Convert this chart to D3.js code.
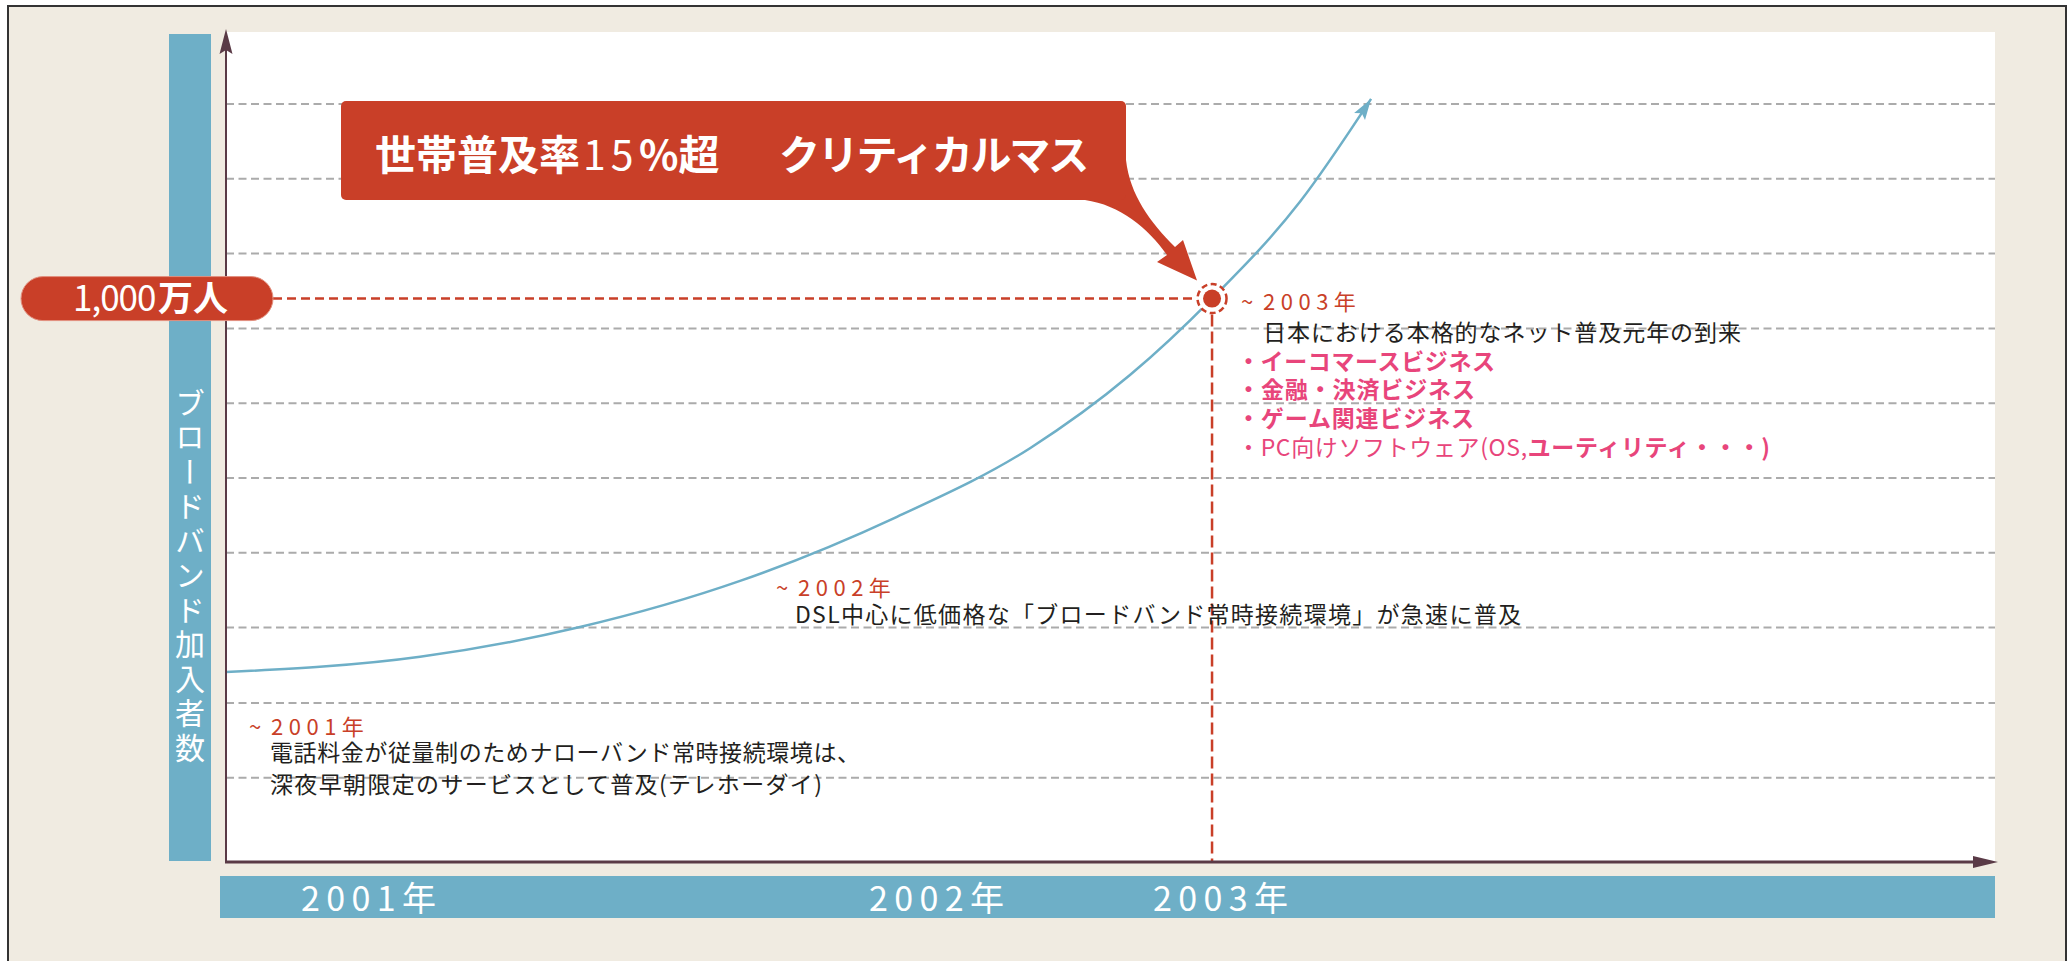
<!DOCTYPE html>
<html>
<head>
<meta charset="utf-8">
<script src="https://cdn.jsdelivr.net/npm/d3@7"></script>
<style>
html, body { margin: 0; padding: 0; background: #fff; overflow: hidden; }
svg text { font-family: "Noto Sans CJK JP", "Noto Sans", sans-serif; }
</style>
</head>
<body>
<div id="chart"></div>
<script>
// timeline position (0-100 along the x axis) and subscribers (万人)
var curveX = [0, 10.97, 20.01, 29.06, 37.93, 45.45, 51.10, 55.74, 60.71, 64.73];
var curveY = [336, 363, 416, 498, 612, 734, 864, 1000, 1172, 1355];

var gridValues = [148, 281, 415, 548, 681, 814, 947, 1080, 1213, 1346];

var yearLabels = ["2001年", "2002年", "2003年"];
var yearLabelAt = [4.24, 36.35, 52.40];

var markerX = 55.74;
var markerValue = 1000;
var markerLabel = ["1,000", "万人"];

var yTitle = "ブロードバンド加入者数";
var calloutText = ["世帯普及率", "15", "%超", "クリティカルマス"];

var width = 2071,
    height = 961

var red = "#C93F28",
    pink = "#E8457B",
    blue = "#6EAFC7",
    beige = "#F0EBE1",
    axisColor = "#5A3A46",
    ink = "#231F20"

var x = d3.scaleLinear().domain([0, 100]).range([226, 1995]);
var y = d3.scaleLinear().domain([0, 1474]).range([861, 32]);

var svg = d3.select("#chart")
  .append("svg")
    .attr("width", width)
    .attr("height", height)

svg.append("rect").attr("width", width).attr("height", height).attr("fill", "#fff");

// outer frame
svg.append("rect")
  .attr("x", 8).attr("y", 6)
  .attr("width", 2058).attr("height", 990)
  .attr("fill", beige)
  .attr("stroke", "#333").attr("stroke-width", 2);

var defs = svg.append("defs");
defs.append("marker")
    .attr("id", "curveArrow")
    .attr("markerUnits", "userSpaceOnUse")
    .attr("viewBox", "-24 -10 26 20")
    .attr("markerWidth", 26).attr("markerHeight", 20)
    .attr("refX", 0).attr("refY", 0)
    .attr("orient", "auto")
  .append("path")
    .attr("d", "M0,0 L-21,-6.5 L-17,0 L-21,6.5 Z")
    .attr("fill", blue);

// axis title bands
svg.append("rect")
  .attr("x", 169).attr("y", 34)
  .attr("width", 42).attr("height", y(0) - 34)
  .attr("fill", blue);

svg.append("rect")
  .attr("x", 220).attr("y", 876)
  .attr("width", x(100) - 220).attr("height", 42)
  .attr("fill", blue);

// plot area
svg.append("rect")
  .attr("x", x(0)).attr("y", y(1474))
  .attr("width", x(100) - x(0)).attr("height", y(0) - y(1474))
  .attr("fill", "#fff");

svg.selectAll(".grid")
  .data(gridValues)
  .enter()
  .append("line")
    .attr("class", "grid")
    .attr("x1", x(0)).attr("x2", x(100))
    .attr("y1", d => y(d)).attr("y2", d => y(d))
    .attr("stroke", "#ABABAB")
    .attr("stroke-width", 2)
    .attr("stroke-dasharray", "8,4.5");

// vertical title
svg.append("text")
  .attr("x", 190).attr("y", 577)
  .attr("writing-mode", "vertical-rl")
  .attr("text-anchor", "middle")
  .attr("font-size", 30)
  .attr("letter-spacing", 4.5)
  .attr("fill", "#fff")
  .text(yTitle);

// year labels
svg.selectAll(".year")
  .data(yearLabels)
  .enter()
  .append("text")
    .attr("class", "year")
    .attr("x", (d, i) => x(yearLabelAt[i]))
    .attr("y", 911)
    .attr("font-size", 34)
    .attr("fill", "#fff")
    .attr("textLength", 135)
    .attr("lengthAdjust", "spacing")
    .text(d => d);

var px = x(markerX),
    py = y(markerValue)

// dashed guides to the critical mass point
svg.append("line")
  .attr("x1", 273).attr("x2", px - 15)
  .attr("y1", py).attr("y2", py)
  .attr("stroke", red).attr("stroke-width", 2.5)
  .attr("stroke-dasharray", "9,5");

svg.append("line")
  .attr("x1", px).attr("x2", px)
  .attr("y1", py + 16).attr("y2", y(0))
  .attr("stroke", red).attr("stroke-width", 2.5)
  .attr("stroke-dasharray", "12,5");

// growth curve
var points = curveX.map((d, i) => [d, curveY[i]]);
var line = d3.line()
  .x(d => x(d[0]))
  .y(d => y(d[1]))
  .curve(d3.curveMonotoneX);

svg.append("path")
  .attr("d", line(points))
  .attr("fill", "none")
  .attr("stroke", blue)
  .attr("stroke-width", 2.5)
  .attr("marker-end", "url(#curveArrow)");

// axes
svg.append("line")
  .attr("x1", x(0)).attr("x2", x(0))
  .attr("y1", y(0) + 1).attr("y2", 45)
  .attr("stroke", axisColor).attr("stroke-width", 2);
svg.append("path")
  .attr("d", "M" + x(0) + ",29 L" + (x(0) - 6.5) + ",54 L" + x(0) + ",50 L" + (x(0) + 6.5) + ",54 Z")
  .attr("fill", axisColor);

svg.append("line")
  .attr("x1", x(0) - 1).attr("x2", 1980)
  .attr("y1", y(0) + 1).attr("y2", y(0) + 1)
  .attr("stroke", axisColor).attr("stroke-width", 3);
svg.append("path")
  .attr("d", "M1998," + (y(0) + 1) + " L1973," + (y(0) - 5) + " L1973," + (y(0) + 7) + " Z")
  .attr("fill", axisColor);

// point marker
svg.append("circle")
  .attr("cx", px).attr("cy", py).attr("r", 14.5)
  .attr("fill", "#fff")
  .attr("stroke", red).attr("stroke-width", 2.5)
  .attr("stroke-dasharray", "6,3.5");
svg.append("circle")
  .attr("cx", px).attr("cy", py).attr("r", 9)
  .attr("fill", red);

// 1,000万人 pill
svg.append("rect")
  .attr("x", 21).attr("y", py - 22)
  .attr("width", 252).attr("height", 44)
  .attr("rx", 22)
  .attr("fill", red)
  .attr("stroke", "#E2907F").attr("stroke-width", 1);
var pill = svg.append("text")
  .attr("x", 73).attr("y", py + 12)
  .attr("font-size", 35).attr("fill", "#fff");
pill.append("tspan").attr("letter-spacing", -1).text(markerLabel[0]);
pill.append("tspan").attr("x", 158).attr("font-weight", "bold").text(markerLabel[1]);

// callout
svg.append("path")
  .attr("d", "M1126,160 C1130,195 1150,222 1175,247 L1183,240 L" + (px - 15) + "," + (py - 18) +
             " L1157,262 L1167,255 C1148,228 1120,205 1085,200 L1090,185 Z")
  .attr("fill", red);
svg.append("rect")
  .attr("x", 341).attr("y", 101)
  .attr("width", 785).attr("height", 99)
  .attr("rx", 5)
  .attr("fill", red);

var cx = [375, 583, 639, 779],
    cb = ["bold", "normal", "bold", "bold"],
    cs = [0, 5, 0, -2.2]
var callout = svg.append("text")
  .attr("y", 170)
  .attr("font-size", 41)
  .attr("fill", "#fff");
calloutText.forEach(function(t, i) {
  callout.append("tspan")
    .attr("x", cx[i])
    .attr("font-weight", cb[i])
    .attr("letter-spacing", cs[i])
    .text(t);
});

// annotations
function yearNote(tx, ty, label) {
  var t = svg.append("text")
    .attr("x", tx).attr("y", ty)
    .attr("font-size", 22).attr("fill", red);
  t.append("tspan").text("~");
  t.append("tspan").attr("x", tx + 22).attr("letter-spacing", 5.5).text(label);
}

function note(tx, ty, len, t, color, weight) {
  svg.append("text")
    .attr("x", tx).attr("y", ty)
    .attr("font-size", 23)
    .attr("font-weight", weight || "normal")
    .attr("fill", color || ink)
    .attr("textLength", len).attr("lengthAdjust", "spacing")
    .text(t);
}

yearNote(1241, 310, "2003年");
note(1263, 341, 478, "日本における本格的なネット普及元年の到来");
note(1237, 370, 258, "・イーコマースビジネス", pink, "bold");
note(1237, 398, 238, "・金融・決済ビジネス", pink, "bold");
note(1237, 427, 237, "・ゲーム関連ビジネス", pink, "bold");

var pc = svg.append("text")
  .attr("x", 1237).attr("y", 456)
  .attr("font-size", 23).attr("fill", pink)
  .attr("textLength", 533).attr("lengthAdjust", "spacing");
pc.append("tspan").text("・PC向けソフトウェア(OS,");
pc.append("tspan").attr("font-weight", "bold").text("ユーティリティ・・・)");

yearNote(776, 596, "2002年");
note(795, 623, 726, "DSL中心に低価格な「ブロードバンド常時接続環境」が急速に普及");

yearNote(249, 735, "2001年");
note(270, 761, 590, "電話料金が従量制のためナローバンド常時接続環境は、");
note(270, 793, 552, "深夜早朝限定のサービスとして普及(テレホーダイ)");
</script>
</body>
</html>
